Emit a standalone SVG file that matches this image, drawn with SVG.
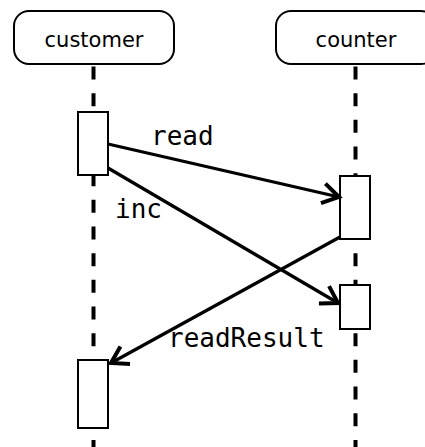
<svg xmlns="http://www.w3.org/2000/svg" width="425" height="447" viewBox="0 0 425 447">
<style>
.head{fill:#fff;stroke:#000;stroke-width:2}
.headtxt{font-family:"DejaVu Sans",sans-serif;font-size:21px;fill:#000;text-anchor:middle}
.life{stroke:#000;stroke-width:4;stroke-dasharray:13 13.67;fill:none}
.act{fill:#fff;stroke:#000;stroke-width:2}
.msg{stroke:#000;stroke-width:3.2;fill:none;marker-end:url(#arr)}
.lbl{font-family:"DejaVu Sans Mono",monospace;font-size:26px;fill:#000}
</style>
<defs>
<marker id="arr" markerUnits="userSpaceOnUse" markerWidth="30" markerHeight="30" refX="0" refY="0" viewBox="-16 -12 20 24" orient="auto" overflow="visible">
<path d="M-13,-8 L0,0 L-13,8" fill="none" stroke="#000" stroke-width="3.2" stroke-linecap="butt" stroke-linejoin="miter"/>
</marker>
</defs>
<g id="lifelines">
<line class="life" x1="93.5" y1="66.5" x2="93.5" y2="447"/>
<line class="life" x1="355.5" y1="66.5" x2="355.5" y2="447"/>
</g>
<g id="customer">
<rect class="head" x="14" y="11" width="160" height="53" rx="15" ry="15"/>
<text class="headtxt" x="94" y="47">customer</text>
</g>
<g id="counter">
<rect class="head" x="276" y="11" width="160" height="53" rx="15" ry="15"/>
<text class="headtxt" x="356" y="47">counter</text>
</g>
<g id="activations">
<rect id="customer-act1" class="act" x="78" y="112" width="30" height="63"/>
<rect id="counter-act1" class="act" x="340" y="176" width="30" height="63"/>
<rect id="counter-act2" class="act" x="340" y="285" width="30" height="44"/>
<rect id="customer-act2" class="act" x="78" y="360" width="30" height="68"/>
</g>
<g id="connectors">
<line class="msg" x1="108" y1="144" x2="339" y2="197"/>
<line class="msg" x1="108" y1="168" x2="338" y2="303"/>
<line class="msg" x1="340" y1="237" x2="111" y2="363"/>
</g>
<g id="labels">
<text class="lbl" x="151" y="145">read</text>
<text class="lbl" x="115" y="218">inc</text>
<text class="lbl" x="168" y="347">readResult</text>
</g>
</svg>
